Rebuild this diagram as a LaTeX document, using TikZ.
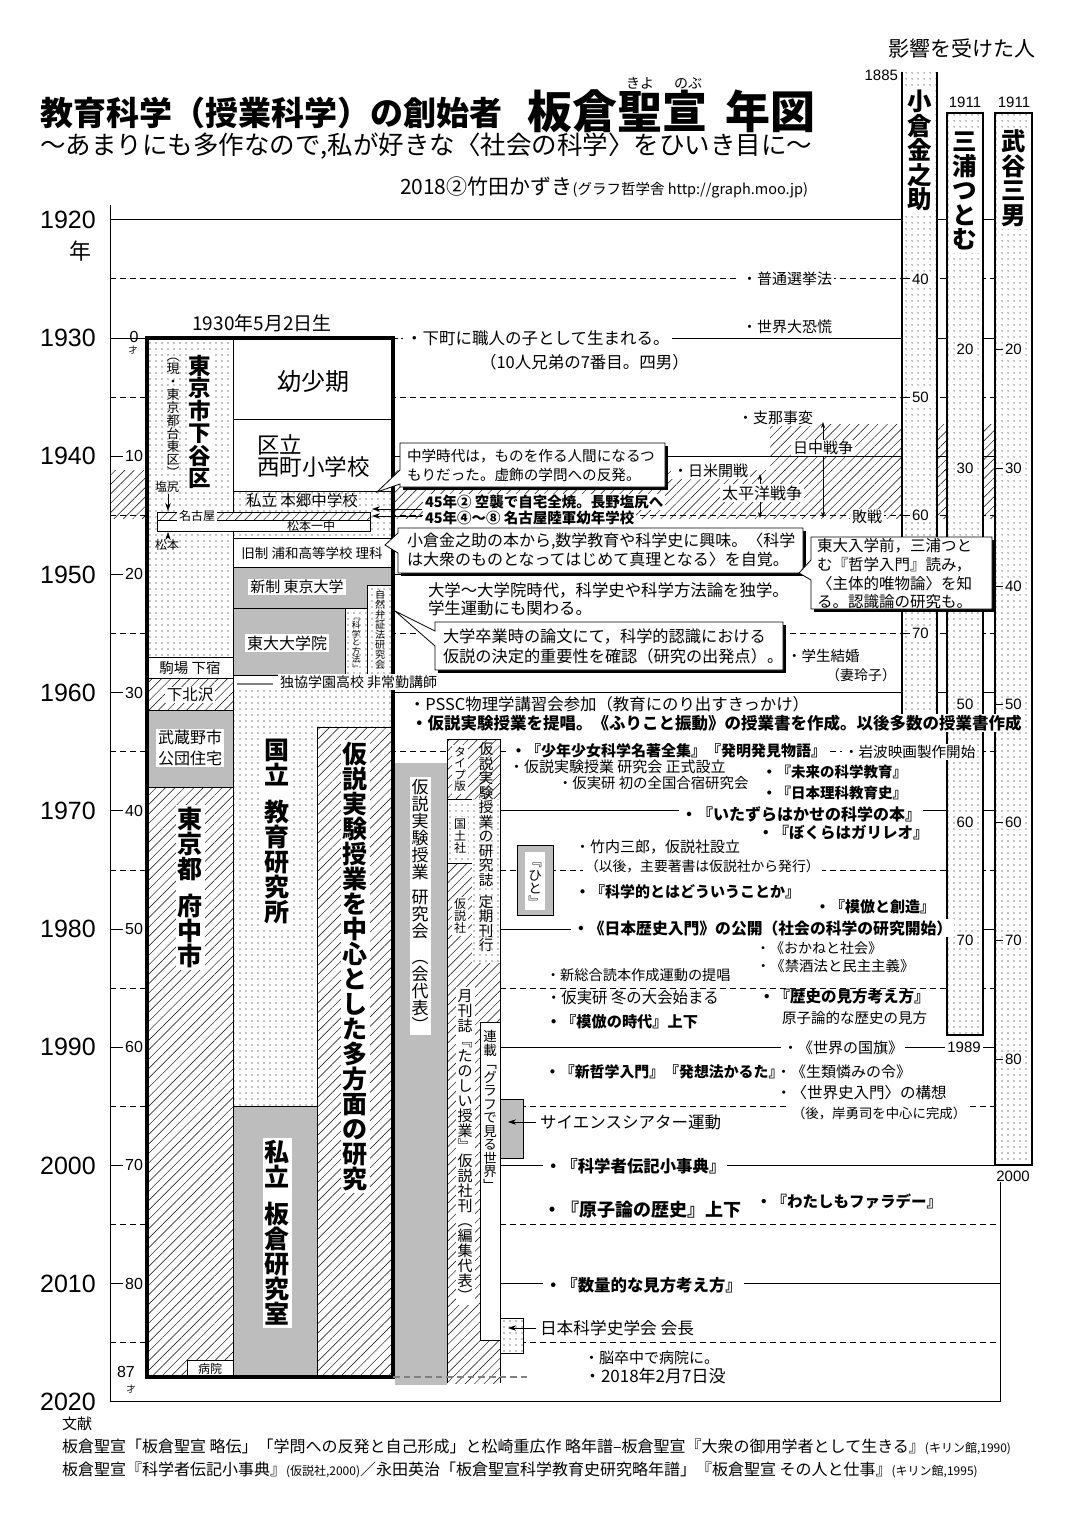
\documentclass[tikz,border=0pt]{standalone}
\usepackage{fontspec}
\setmainfont{Noto Sans CJK JP}
\newfontfamily\lat{Liberation Sans}
\usetikzlibrary{patterns.meta,arrows.meta}
\newcommand\px[2][1.22]{\fontsize{\fpeval{#2*0.75}}{\fpeval{#2*0.75*#1}}\selectfont}
\newcommand\vtstrut{\vrule height \vtH depth \vtD width 0pt}
\def\vh#1\vtstrut{\vrule height .42em depth .08em width 0pt}
\ExplSyntaxOn
\NewDocumentCommand\vt{O{1}m}
 {
  \vbox
   {
    \offinterlineskip
    \edef\vtH{\fp_eval:n{.88*#1}em}
    \edef\vtD{\fp_eval:n{.12*#1}em}
    \tl_map_inline:nn {#2} { \hbox_to_wd:nn {1em} { \hss ##1 \hss \vtstrut } }
   }
 }
\ExplSyntaxOff
\begin{document}
\begin{tikzpicture}[x=0.75pt,y=-0.75pt,
  every node/.style={inner sep=0pt,outer sep=0pt},
  ln/.style={line width=0.6pt},
  bold3/.style={line width=2.2pt},
  hatch/.style={preaction={fill=white},pattern={Lines[angle=45,distance=5pt,line width=0.35pt]}},
  hatchonly/.style={pattern={Lines[angle=45,distance=5pt,line width=0.35pt]}},
  dotfill/.style={preaction={fill=white},pattern={Dots[distance=4.5pt,radius=0.4pt]}},
  greyfill/.style={fill=black!26},
  wb/.style={fill=white,inner xsep=1.5pt,inner ysep=1pt},
  arr/.style={-{Stealth[length=6pt,width=4pt]}},
  darr/.style={{Stealth[length=4.5pt,width=3pt]}-{Stealth[length=4.5pt,width=3pt]}},
  shadow/.style={fill=black}
]
\useasboundingbox (0,0) rectangle (1075,1519);
\fill[white] (0,0) rectangle (1075,1519);

% ---------- war hatching ----------
\path[hatchonly] (110,470) rectangle (995,518);
\path[hatchonly] (770,424) rectangle (995,470);

% ---------- grid ----------
\foreach \k in {0,...,10}{\draw[ln] (110,{219.8+\k*118.2}) -- (1000,{219.8+\k*118.2});}
\foreach \k in {0,...,9}{\draw[ln,dash pattern=on 4.5pt off 3pt] (110,{278.9+\k*118.2}) -- (1000,{278.9+\k*118.2});}
\draw[white,line width=1.5pt] (396,338) -- (404,338);
\draw[ln,dash pattern=on 1.5pt off 2pt] (396,338) -- (404,338);
\draw[ln] (110,205) -- (110,1402);
\draw[ln] (1000,1182) -- (1000,1402);
\foreach \yy [count=\k from 0] in {1920,1930,...,2020}{\node[font={\lat\px{25}}] (yr\k) at (68,{219.8+\k*118.2}) {\yy};}
\node[font={\px{22}}] (nen) at (80,251) {年};
\foreach \a [count=\k from 1] in {10,20,...,80}{\node[wb,anchor=east,font={\lat\px{16}}] (age\k) at (145,{338+\k*118.2}) {\a};}
\node[font={\lat\px{16}}] (age0) at (134,337) {0};
\node[font={\px{9}}] (sai0) at (133,350) {才};
\node[font={\lat\px{16}}] (age87) at (126,1372) {87};
\node[font={\px{9}}] (sai87) at (131,1389) {才};

% ---------- person columns ----------
\path[dotfill] (902,72) rectangle (937,716);
\draw[bold3] (902,72) -- (902,716) -- (937,716) -- (937,72);
\path[dotfill] (947,113) rectangle (983,1035);
\draw[bold3] (947,113) rectangle (983,1035);
\path[dotfill] (995,113) rectangle (1032,1165);
\draw[bold3] (995,113) rectangle (1032,1165);
\node[anchor=north,wb,font={\px{24.5}\bfseries}] (ogura) at (919.5,88) {\vt{小倉金之助}};
\node[anchor=north,wb,font={\px{24.5}\bfseries}] (miura) at (965,128) {\vt{三浦つとむ}};
\node[anchor=north,wb,font={\px{24.5}\bfseries}] (taketani) at (1013.5,128) {\vt{武谷三男}};
\foreach \a [count=\k from 0] in {40,50,60,70}{\draw[ln] (903,{278.9+\k*118.2}) -- +(7,0); \node[wb,anchor=west,font={\lat\px{15}}] (og\k) at (910,{278.9+\k*118.2}) {\a};}
\foreach \a/\k in {20/0,30/1,50/3,60/4,70/5}{\node[wb,font={\lat\px{15}}] (mi\k) at (965,{349.8+\k*118.2}) {\a};}
\foreach \a [count=\k from 0] in {20,30,...,80}{\draw[ln] (996,{349.8+\k*118.2}) -- +(7,0); \node[wb,anchor=west,font={\lat\px{15}}] (ta\k) at (1003,{349.8+\k*118.2}) {\a};}
\node[anchor=east,font={\lat\px{15}}] (b1885) at (898,75) {1885};
\node[font={\lat\px{15}}] (b1911a) at (965,102) {1911};
\node[font={\lat\px{15}}] (b1911b) at (1014,102) {1911};
\node[wb,font={\lat\px{15}}] (d1989) at (964,1047) {1989};
\node[font={\lat\px{15}}] (d2000) at (1013,1176) {2000};

% ---------- main box: column A ----------
\path[dotfill] (147,338) rectangle (233,657);
\draw[ln,fill=white] (147,657) rectangle (233,678);
\path[hatch] (147,678) rectangle (233,710); \draw[ln] (147,678) rectangle (233,710);
\draw[ln,greyfill] (147,710) rectangle (233,787);
\path[hatch] (147,787) rectangle (233,1377); \draw[ln] (147,787) rectangle (233,1377);
\draw[ln,fill=white] (187,1360) rectangle (234,1377);

% ---------- main box: columns B/C ----------
\draw[ln,fill=white] (233,338) rectangle (393,419);
\draw[ln,fill=white] (233,419) rectangle (393,491);
\path[dotfill] (233,491) rectangle (393,538); \draw[ln] (233,491) rectangle (393,538);
\draw[ln,fill=white] (233,538) rectangle (393,567);
\draw[ln,greyfill] (233,567) rectangle (393,608);
\draw[ln,greyfill] (233,608) rectangle (345,675);
\path[dotfill] (345,608) rectangle (367,675); \draw[ln] (345,608) rectangle (367,675);
\path[dotfill] (367,585) rectangle (393,675); \draw[ln] (367,585) rectangle (393,675);
\draw[ln,fill=white] (233,675) rectangle (393,687);
\path[dotfill] (233,687) rectangle (317,1106);
\path[dotfill] (317,687) rectangle (393,727);
\draw[ln,greyfill] (233,1106) rectangle (317,1377);
\path[hatch] (317,727) rectangle (393,1377);
\draw[ln] (233,687) -- (233,1377) (317,727) -- (317,1377) (317,727) -- (393,727);
\draw[gray,line width=1.5pt] (237,684) -- (273,684);
% bands
\path[hatch] (157,512) rectangle (370,520); \draw[ln] (157,512) rectangle (370,520);
\draw[ln,fill=white] (157,520) rectangle (370,531);
% main border
\draw[line width=3pt] (147,338) rectangle (393,1377);

% main box texts
\node[font={\px{19}}] (born) at (262,323) {1930年5月2日生};
\node[anchor=north,font={\px{13}}] (gen) at (173,349) {\vt{︵現・東京都台東区︶}};
\node[anchor=north,wb,font={\px{22.5}\bfseries}] (shitaya) at (200,353) {\vt{東京市下谷区}};
\node[font={\px{24}}] (yosho) at (313,381) {幼少期};
\node[anchor=west,align=left,font={\px[0.98]{22.5}}] (nishi) at (257,456) {区立\\西町小学校};
\node[font={\px{15.5}}] (hongo) at (302,501) {私立 本郷中学校};
\node[wb,font={\px{12}}] (nagoya) at (197,516) {名古屋};
\node[font={\px{12}}] (matsu1) at (311,526) {松本一中};
\node[font={\px{12}}] (shioj) at (167,487) {塩尻};
\draw[arr] (shioj.south) ++(1,1) -- (168,511);
\node[font={\px{12}}] (matsu) at (167,545) {松本};
\draw[arr] (matsu.north) ++(1,-1) -- (168,532);
\node[font={\px{13.5}}] (urawa) at (312,553) {旧制 浦和高等学校 理科};
\node[wb,font={\px{15}}] (todai) at (297,587) {新制 東京大学};
\node[wb,font={\px{16}}] (inn) at (287,643) {東大大学院};
\node[anchor=north,font={\px{8.5}}] (kagaku) at (356,613) {\vt{﹃科学と方法﹄}};
\node[anchor=north,font={\px{10}}] (shizen) at (380,590) {\vt{自然弁証法研究会}};
\node[font={\px{14.5}}] (komaba) at (190,668) {駒場 下宿};
\node[wb,font={\px{15.5}}] (shimok) at (190,695) {下北沢};
\node[wb,align=center,font={\px[1.3]{16}}] (musashi) at (190,748) {武蔵野市\\公団住宅};
\node[anchor=north,wb,font={\px{25}\bfseries}] (fuchu) at (190,805) {\vt{東京都\vh 府中市}};
\node[anchor=north,wb,font={\px{25}\bfseries}] (kokuritsu) at (277,736) {\vt{国立\vh 教育研究所}};
\node[anchor=north,wb,font={\px{25}\bfseries}] (tahomen) at (355,740) {\vt{仮説実験授業を中心とした多方面の研究}};
\node[anchor=north,wb,font={\px{25}\bfseries}] (itakura) at (277,1138) {\vt{私立\vh 板倉研究室}};
\node[font={\px{12}}] (byoin) at (210,1369) {病院};
\node[wb,anchor=west,font={\px{14}}] (dokkyo) at (278,682) {独協学園高校 非常勤講師};

% ---------- publication columns ----------
\fill[black!26] (395,763) rectangle (447,1385);
\path[hatch] (447,739) rectangle (500,799);
\path[dotfill] (447,799) rectangle (472,863);
\path[hatch] (447,863) rectangle (472,963);
\path[dotfill] (472,799) rectangle (500,963);
\draw[ln] (447,739) rectangle (500,963);
\draw[ln] (447,799) -- (472,799) (447,863) -- (472,863);
\path[hatch] (447,963) rectangle (500,1383);
\draw[ln] (447,963) -- (447,1383) (500,963) -- (500,1383);
\draw[ln,fill=white] (480,1022) rectangle (500,1340);
\draw[ln,greyfill] (500,1099) rectangle (523,1158);
\path[dotfill] (500,1318) rectangle (523,1353); \draw[ln] (500,1318) rectangle (523,1353);
\draw[ln,greyfill] (517,845) rectangle (553,915);
\fill[white] (525,852) rectangle (545,910);
\draw[gray,line width=1.5pt,dash pattern=on 5pt off 3pt] (393,1377) -- (527,1377);

\node[anchor=north,wb,font={\px{17}}] (kaiken) at (420,777) {\vt{仮説実験授業\vh 研究会\vh ︵会代表︶}};
\node[anchor=north,wb,font={\px{11.5}}] (type) at (460,745) {\vt{タイプ版}};
\node[anchor=north,font={\px{14.5}}] (kenkyushi) at (486,742) {\vt{仮説実験授業の研究誌\vh 定期刊行}};
\node[anchor=north,wb,font={\px{12}}] (kokudo) at (460,817) {\vt{国土社}};
\node[anchor=north,wb,font={\px{12}}] (kasetsusha) at (460,897) {\vt{仮説社}};
\node[anchor=north,wb,font={\px{15}}] (tanoshii) at (465,987) {\vt{月刊誌﹃たのしい授業﹄仮説社刊︵編集代表︶}};
\node[anchor=north,font={\px{13.5}}] (rensai) at (490,1030) {\vt{連載﹁グラフで見る世界﹂}};
\node[anchor=north,font={\px{13.5}}] (hito) at (535,855) {\vt{﹃ひと﹄}};
\node[anchor=west,font={\px{16.5}}] (science) at (540,1122) {サイエンスシアター運動};
\draw[arr] (science.west) ++(-4,0) -- (508,1122);
\node[anchor=west,font={\px{16.7}}] (gakkai) at (540,1328) {日本科学史学会 会長};
\draw[arr] (gakkai.west) ++(-4,0) -- (508,1328);

% ---------- events 1920-1960 ----------
\node[wb,anchor=west,font={\px{15}}] (futsu) at (740,279) {・普通選挙法};
\node[wb,anchor=west,font={\px{15}}] (kyoko) at (740,327) {・世界大恐慌};
\node[wb,anchor=west,font={\px{16.5}}] (shitamachi) at (404,338) {・下町に職人の子として生まれる。};
\node[anchor=west,font={\px{16.5}}] (kyodai) at (480,362) {（10人兄弟の7番目。四男）};
\node[wb,anchor=west,font={\px{15}}] (shina) at (736,418) {・支那事変};
\draw[darr] (823,422) -- (823,518);
\node[wb,font={\px{15}}] (nicchu) at (823,448) {日中戦争};
\node[wb,anchor=west,font={\px{15}}] (nichibei) at (671,471) {・日米開戦};
\draw[darr] (760,474) -- (760,518);
\node[wb,font={\px{16}}] (taiheiyo) at (762,493) {太平洋戦争};
\node[wb,font={\px{15}}] (haisen) at (867,517) {敗戦};
\node[wb,anchor=west,font={\px{14.5}\bfseries}] (kushu) at (423,502) {45年② 空襲で自宅全焼。長野塩尻へ};
\node[wb,anchor=west,font={\px{14.5}\bfseries}] (yonen) at (423,518) {45年④～⑧ 名古屋陸軍幼年学校};
\draw[arr] (422,509) -- (372,509);
\draw[arr] (422,516) -- (372,516);

% callout 1
\fill[shadow] (403,446) rectangle (668,490);
\draw[ln,fill=white] (400,443) -- (665,443) -- (665,487) -- (400,487) -- (400,484) -- (377,492) -- (400,470) -- cycle;
\node[anchor=west,align=left,font={\px[1.3]{14.6}}] (c1) at (407,465) {中学時代は，ものを作る人間になるつ\\もりだった。虚飾の学問への反発。};
% callout 2
\fill[shadow] (401,531) rectangle (806,576);
\draw[ln,fill=white] (398,528) -- (803,528) -- (803,573) -- (398,573) -- (398,553) -- (385,545) -- (398,533) -- cycle;
\node[anchor=west,align=left,font={\px[1.2]{16}}] (c2) at (407,550) {小倉金之助の本から,数学教育や科学史に興味。〈科学\\は大衆のものとなってはじめて真理となる〉を自覚。};
% callout 3
\fill[shadow] (814,540) rectangle (995,612);
\draw[ln,fill=white] (811,537) -- (992,537) -- (992,609) -- (811,609) -- (811,580) -- (799,573) -- (811,560) -- cycle;
\node[anchor=west,align=left,font={\px[1.2]{15.5}}] (c3) at (817,574) {東大入学前，三浦つと\\む『哲学入門』読み，\\〈主体的唯物論〉を知\\る。認識論の研究も。};
\node[anchor=west,align=left,font={\px[1.1]{16.4}}] (daigaku) at (428,599) {大学～大学院時代，科学史や科学方法論を独学。\\学生運動にも関わる。};
% callout 4
\fill[shadow] (438,625) rectangle (786,673);
\draw[ln,fill=white] (435,622) -- (783,622) -- (783,670) -- (435,670) -- (435,646) -- (395,611) -- (435,631) -- cycle;
\node[anchor=west,align=left,font={\px[1.23]{16.2}}] (c4) at (443,646) {大学卒業時の論文にて，科学的認識における\\仮説の決定的重要性を確認（研究の出発点）。};
\node[anchor=west,font={\px{14.5}}] (kekkon) at (787,656) {・学生結婚};
\node[anchor=west,font={\px{14}}] (reiko) at (826,675) {（妻玲子）};

% ---------- events 1960-2020 ----------
\node[anchor=west,font={\px{16.4}}] (pssc) at (409,704) {・PSSC物理学講習会参加（教育にのり出すきっかけ）};
\node[wb,anchor=west,font={\px{16.5}\bfseries}] (teisho) at (409,723) {・仮説実験授業を提唱。《ふりこと振動》の授業書を作成。以後多数の授業書作成};
\node[wb,anchor=west,font={\px{15}\bfseries}] (shonen) at (509,751) {・『少年少女科学名著全集』『発明発見物語』};
\node[wb,anchor=west,font={\px{14.6}}] (iwanami) at (842,752) {・岩波映画製作開始};
\node[anchor=west,font={\px{15}}] (seishiki) at (509,767) {・仮説実験授業 研究会 正式設立};
\node[anchor=west,font={\px{14.4}}] (gasshuku) at (558,783) {・仮実研 初の全国合宿研究会};
\node[anchor=west,font={\px{14.5}\bfseries}] (mirai) at (762,772) {・『未来の科学教育』};
\node[anchor=west,font={\px{14.5}\bfseries}] (rika) at (762,793) {・『日本理科教育史』};
\node[wb,anchor=west,font={\px{16}\bfseries}] (itazura) at (679,814) {・『いたずらはかせの科学の本』};
\node[anchor=west,font={\px{15.5}\bfseries}] (galileo) at (758,833) {・『ぼくらはガリレオ』};
\node[anchor=west,font={\px{15}}] (takeuchi) at (575,847) {・竹内三郎，仮説社設立};
\node[wb,anchor=west,font={\px{13.8}}] (igo) at (583,866) {（以後，主要著書は仮説社から発行）};
\node[anchor=west,font={\px{15}\bfseries}] (kagakuteki) at (575,892) {・『科学的とはどういうことか』};
\node[anchor=west,font={\px{15}\bfseries}] (mohoso) at (815,907) {・『模倣と創造』};
\node[wb,anchor=west,font={\px{15.8}\bfseries}] (rekishi) at (571,928) {・《日本歴史入門》の公開（社会の科学の研究開始）};
\node[anchor=west,font={\px{14}}] (okane) at (756,948) {・《おかねと社会》};
\node[anchor=west,font={\px{14.4}}] (kinshu) at (756,966) {・《禁酒法と民主主義》};
\node[anchor=west,font={\px{14.2}}] (shinsogo) at (546,975) {・新総合読本作成運動の提唱};
\node[anchor=west,font={\px{15.4}}] (fuyu) at (546,998) {・仮実研 冬の大会始まる};
\node[anchor=west,font={\px{15.5}\bfseries}] (mikata) at (759,997) {・『歴史の見方考え方』};
\node[anchor=west,font={\px{14.5}}] (genshiron) at (782,1018) {原子論的な歴史の見方};
\node[anchor=west,font={\px{15.2}\bfseries}] (mohojidai) at (546,1022) {・『模倣の時代』上下};
\node[wb,anchor=west,font={\px{15}}] (kokki) at (781,1048) {・《世界の国旗》};
\node[anchor=west,font={\px{14.9}\bfseries}] (shintetsu) at (545,1072) {・『新哲学入門』『発想法かるた』};
\node[anchor=west,font={\px{15}}] (shorui) at (776,1072) {・《生類憐みの令》};
\node[anchor=west,font={\px{15.5}}] (sekaishi) at (776,1093) {・〈世界史入門〉の構想};
\node[wb,anchor=west,font={\px{13.4}}] (kishi) at (790,1113) {（後，岸勇司を中心に完成）};
\node[wb,anchor=west,font={\px{16.4}\bfseries}] (denki) at (543,1166) {・『科学者伝記小事典』};
\node[anchor=west,font={\px{18}\bfseries}] (genshi) at (543,1210) {・『原子論の歴史』上下};
\node[anchor=west,font={\px{15.5}\bfseries}] (faraday) at (756,1202) {・『わたしもファラデー』};
\node[wb,anchor=west,font={\px{16.4}\bfseries}] (suryo) at (543,1285) {・『数量的な見方考え方』};
\node[anchor=west,font={\px{15}}] (nosot) at (584,1358) {・脳卒中で病院に。};
\node[anchor=west,font={\px{17}}] (death) at (584,1376) {・2018年2月7日没};

% ---------- title ----------
\node[anchor=west,font={\px{33}\bfseries}] (title1) at (40,113) {教育科学（授業科学）の創始者};
\node[anchor=west,font={\px{45}\bfseries}] (title2) at (527,111) {板倉聖宣};
\node[anchor=west,font={\px{45}\bfseries}] (title3) at (725,111) {年図};
\node[font={\px{14}}] (ruby1) at (640,83) {きよ};
\node[font={\px{14}}] (ruby2) at (688,83) {のぶ};
\node[anchor=west,font={\px{25.5}}] (sub) at (40,146) {～あまりにも多作なので,私が好きな〈社会の科学〉をひいき目に～};
\node[anchor=east] (credit) at (808,187) {{\px{21}2018②竹田かずき}{\px{14.5}(グラフ哲学舎 http://graph.moo.jp)}};
\node[font={\px{21}}] (infl) at (962,48) {影響を受けた人};

% ---------- references ----------
\node[anchor=west,font={\px{15}}] (refh) at (62,1424) {文献};
\node[anchor=west] (ref1) at (62,1447) {{\px{16}板倉聖宣「板倉聖宣 略伝」「学問への反発と自己形成」と松崎重広作 略年譜--板倉聖宣『大衆の御用学者として生きる』}{\px{12}(キリン館,1990)}};
\node[anchor=west] (ref2) at (62,1470) {{\px{16}板倉聖宣『科学者伝記小事典』}{\px{12}(仮説社,2000)}{\px{16}／永田英治「板倉聖宣科学教育史研究略年譜」『板倉聖宣 その人と仕事』}{\px{12}(キリン館,1995)}};
\end{tikzpicture}
\end{document}
